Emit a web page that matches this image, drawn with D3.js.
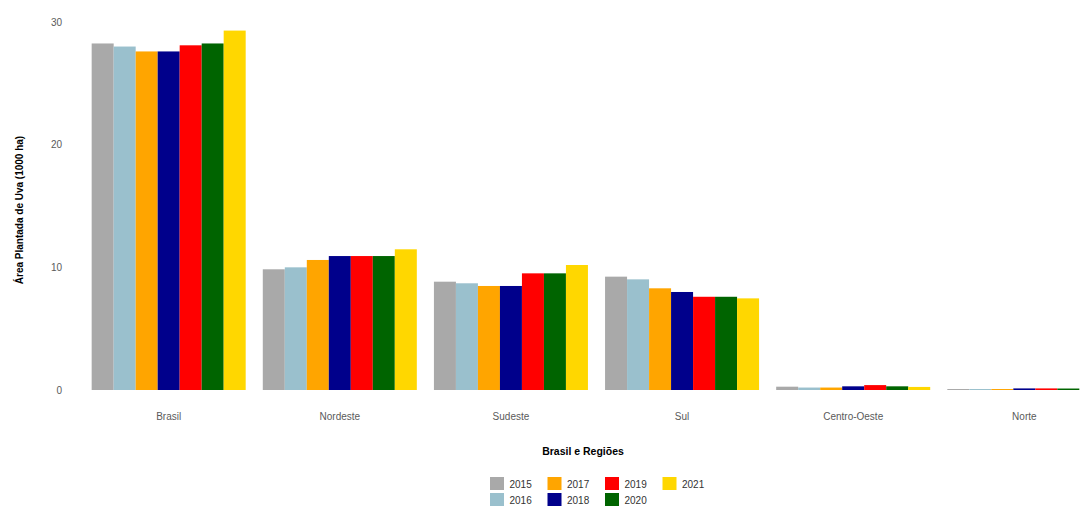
<!DOCTYPE html>
<html>
<head>
<meta charset="utf-8">
<script src="https://cdn.jsdelivr.net/npm/d3@7"></script>
<style>
  body { margin: 0; background: #fff; }
  svg { display: block; font-family: "Liberation Sans", Arial, sans-serif; }
</style>
</head>
<body>
<svg id="chart" width="1086" height="507"></svg>
<script>
const regions = ["Brasil", "Nordeste", "Sudeste", "Sul", "Centro-Oeste", "Norte"];
const years = ["2015", "2016", "2017", "2018", "2019", "2020", "2021"];
const yearColors = ["#A9A9A9", "#9AC0CD", "#FFA500", "#00008B", "#FF0000", "#006400", "#FFD700"];
const yTicks = [0, 10, 20, 30];

// values (1000 ha) per region, one array per year
const v2015 = [28.25, 9.84, 8.83, 9.24, 0.27, 0.08];
const v2016 = [28.0, 10.0, 8.7, 9.02, 0.2, 0.08];
const v2017 = [27.6, 10.6, 8.48, 8.29, 0.2, 0.08];
const v2018 = [27.6, 10.92, 8.48, 7.99, 0.3, 0.13];
const v2019 = [28.1, 10.92, 9.51, 7.6, 0.4, 0.13];
const v2020 = [28.25, 10.92, 9.51, 7.6, 0.3, 0.12];
const v2021 = [29.3, 11.47, 10.19, 7.47, 0.25, 0.0];
const seriesValues = [v2015, v2016, v2017, v2018, v2019, v2020, v2021];

const svg = d3.select("#chart");

const x0 = d3.scaleBand()
  .domain(regions)
  .range([66, 1127])
  .paddingInner(0.1)
  .paddingOuter(0.15);

const x1 = d3.scaleBand()
  .domain(years)
  .range([0, x0.bandwidth()])
  .padding(0);

const y = d3.scaleLinear().domain([0, 30]).range([390, 22]);

const color = d3.scaleOrdinal().domain(years).range(yearColors);

// bars
const data = [];
regions.forEach((r, i) => {
  years.forEach((yr, j) => {
    data.push({ region: r, year: yr, value: seriesValues[j][i] });
  });
});

svg.append("g").selectAll("rect")
  .data(data)
  .join("rect")
  .attr("x", d => x0(d.region) + x1(d.year))
  .attr("y", d => y(d.value))
  .attr("width", x1.bandwidth())
  .attr("height", d => y(0) - y(d.value))
  .attr("fill", d => color(d.year));

// y axis
const yAxis = d3.axisLeft(y).tickValues(yTicks).tickSize(0).tickPadding(0);
const gy = svg.append("g").attr("transform", "translate(62,0)").call(yAxis);
gy.select(".domain").remove();
gy.selectAll("text").attr("fill", "#5A5A5A").style("font-size", "10px");

// x axis
const xAxis = d3.axisBottom(x0).tickSize(0).tickPadding(0);
const gx = svg.append("g").attr("transform", "translate(0,413)").call(xAxis);
gx.select(".domain").remove();
gx.selectAll("text").attr("fill", "#5A5A5A").style("font-size", "10px");

// axis titles
svg.append("text")
  .attr("x", 583).attr("y", 455)
  .attr("text-anchor", "middle")
  .style("font-size", "10.5px").style("font-weight", "bold")
  .attr("fill", "#000")
  .text("Brasil e Regiões");

svg.append("text")
  .attr("transform", "translate(23,210) rotate(-90)")
  .attr("text-anchor", "middle")
  .style("font-size", "10px").style("font-weight", "bold")
  .attr("fill", "#000")
  .text("Área Plantada de Uva (1000 ha)");

// legend: 2 rows, filled column-wise
const legend = svg.append("g");
years.forEach((yr, i) => {
  const col = Math.floor(i / 2), row = i % 2;
  const gx0 = 490 + col * 57.5, gy0 = 477 + row * 16;
  legend.append("rect")
    .attr("x", gx0).attr("y", gy0)
    .attr("width", 14).attr("height", 13)
    .attr("fill", color(yr));
  legend.append("text")
    .attr("x", gx0 + 19.5).attr("y", gy0 + 10.5)
    .style("font-size", "10px")
    .attr("fill", "#333")
    .text(yr);
});
</script>
</body>
</html>
